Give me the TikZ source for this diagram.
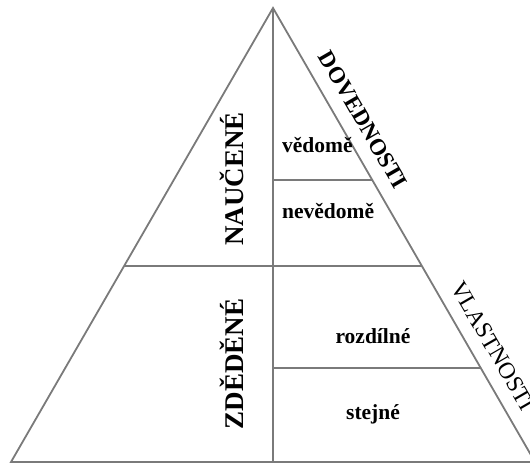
\documentclass[tikz,border=0pt]{standalone}
\usepackage{fontspec}
\setmainfont{Liberation Serif}
\usetikzlibrary{calc}
\tikzset{
  edge/.style={draw=black!52, line width=1.8pt},
  cell/.style={inner sep=0pt, font=\fontsize{21.5}{23}\selectfont\bfseries},
  title/.style={inner sep=0pt, font=\fontsize{27}{29}\selectfont\bfseries, rotate=90},
  side/.style={inner sep=0pt, rotate=-60}
}
\begin{document}
\begin{tikzpicture}[x=1pt,y=-1pt]
\useasboundingbox (0,0) rectangle (530,463);
\clip (0,0) rectangle (530,463);
\coordinate (A) at (273,8);
\coordinate (L) at (11,462);
\coordinate (R) at (535,462);
\coordinate (M) at (273,462);
\coordinate (hl) at ($(A)!0.5683!(L)$);
\coordinate (hr) at ($(A)!0.5683!(R)$);
\coordinate (hm) at (273,266);
\coordinate (u1) at (273,180);
\coordinate (u2) at ($(A)!0.3789!(R)$);
\coordinate (d1) at (273,368);
\coordinate (d2) at ($(A)!0.793!(R)$);
\draw[edge, line join=miter] (L) -- (A) -- (R) -- cycle;
\draw[edge] (A) -- (M);
\draw[edge] (hl) -- (hr);
\draw[edge] (u1) -- (u2);
\draw[edge] (d1) -- (d2);
\node[title] (nauc) at (232,179) {NAUČENÉ};
\node[title] (zded) at (232,364) {ZDĚDĚNÉ};
\node[cell, anchor=base west] (ved) at (282,152) {vědomě};
\node[cell, anchor=base west] (neved) at (282,218) {nevědomě};
\node[cell, anchor=base] (rozd) at (373,343) {rozdílné};
\node[cell, anchor=base] (stej) at (373,419) {stejné};
\node[side, font=\fontsize{23}{25}\selectfont\bfseries] (dov) at (363,120) {DOVEDNOSTI};
\node[side, font=\fontsize{23.5}{25}\selectfont] (vlas) at (493,346) {VLASTNOSTI};
\end{tikzpicture}
\end{document}
